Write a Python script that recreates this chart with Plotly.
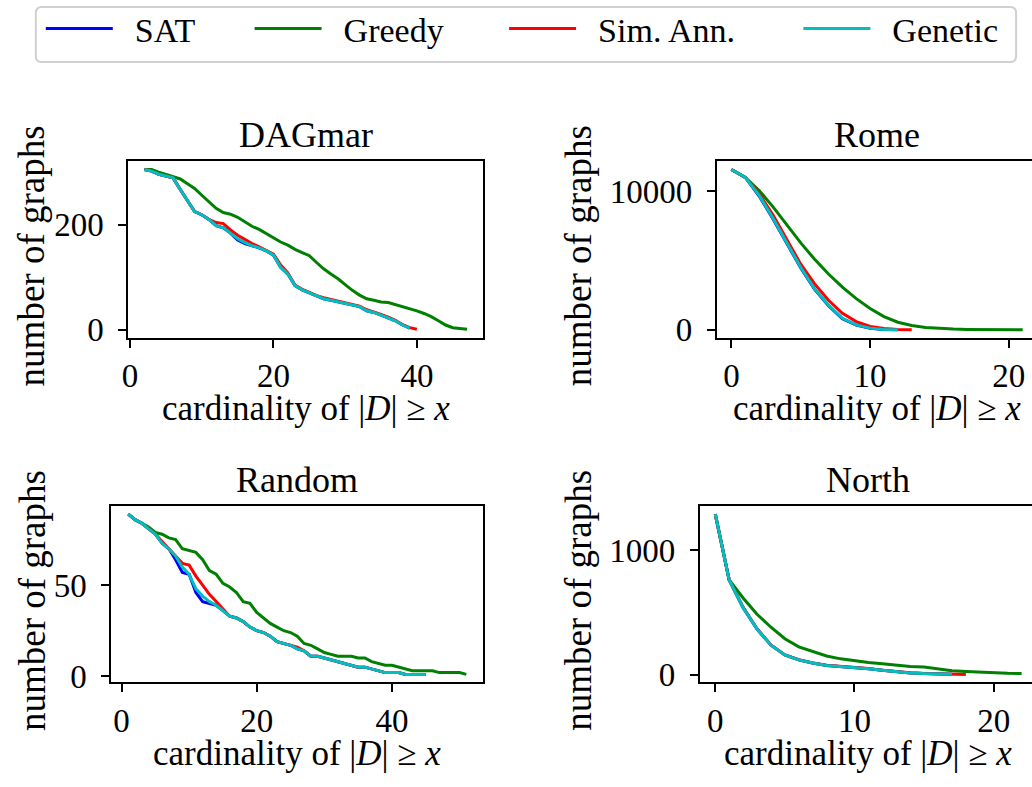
import plotly.graph_objects as go

W, H = 1032, 787
FONT = "Liberation Serif"

# ---------------- data ----------------
# DAGmar
dag_x_sat = list(range(2, 40))
dag_sat = [305, 302, 296, 292, 289, 267, 245, 225, 219, 210, 198, 194, 184, 171, 164, 160, 156, 150, 142,
           119, 106, 84, 76, 70, 64, 59, 56, 53, 50, 47, 44, 36, 33, 28, 23, 17, 9, 3]
dag_x_greedy = list(range(2, 48))
dag_greedy = [305, 305, 300, 296, 292, 287, 278, 269, 256, 244, 231, 223, 220, 214, 206, 197, 191, 183, 175,
              167, 161, 153, 147, 141, 128, 116, 106, 97, 86, 75, 66, 59, 56, 53, 52, 48, 45, 41, 36, 31,
              25, 17, 9, 4, 3, 1]
dag_x_sa = list(range(2, 41))
dag_sa = [305, 302, 296, 292, 289, 267, 245, 225, 219, 210, 204, 202, 190, 180, 172, 164, 158, 151, 144,
          123, 108, 85, 77, 71, 65, 61, 58, 54, 51, 48, 45, 38, 34, 29, 24, 18, 10, 4, 1]
dag_x_gen = list(range(2, 40))
dag_gen = [305, 302, 296, 292, 289, 267, 245, 225, 219, 210, 198, 194, 184, 173, 166, 160, 156, 150, 142,
           119, 106, 84, 76, 70, 64, 59, 56, 53, 50, 47, 44, 36, 33, 28, 23, 17, 9, 3]

# Rome
rome_x_sat = list(range(0, 13))
rome_sat = [11560, 10993, 9650, 7990, 6220, 4450, 2920, 1740, 800, 340, 110, 22, 4]
rome_x_greedy = list(range(0, 22))
rome_greedy = [11560, 10993, 10047, 8865, 7565, 6265, 5083, 4019, 3073, 2246, 1537, 946, 544, 307, 165,
               95, 47, 24, 10, 5, 3, 1]
rome_x_sa = list(range(0, 14))
rome_sa = [11560, 10993, 9810, 8274, 6500, 4728, 3310, 2128, 1182, 591, 236, 95, 24, 3]
rome_x_gen = list(range(0, 13))
rome_gen = [11560, 10993, 9693, 8038, 6265, 4492, 2955, 1773, 827, 355, 118, 24, 5]

# Random
rand_x_sat = list(range(1, 46))
rand_sat = [89, 86, 84, 81, 78, 73, 70, 64, 57, 56, 46, 41, 40, 39, 36, 33, 32, 30, 27, 25, 24, 22, 19, 18,
            17, 15, 14, 11, 11, 10, 9, 8, 7, 6, 5, 5, 4, 3, 2, 2, 2, 1, 1, 1, 1]
rand_x_greedy = list(range(1, 52))
rand_greedy = [89, 86, 84, 82, 79, 78, 76, 75, 70, 69, 68, 64, 58, 56, 51, 49, 46, 41, 40, 35, 32, 29, 27,
               25, 24, 22, 18, 17, 15, 13, 12, 11, 11, 11, 10, 10, 8, 7, 6, 6, 5, 4, 3, 3, 3, 3, 2, 2, 2,
               2, 1]
rand_x_sa = list(range(1, 46))
rand_sa = [89, 86, 84, 81, 78, 74, 70, 66, 62, 61, 55, 50, 45, 41, 37, 33, 32, 30, 27, 25, 24, 22, 19, 18,
           17, 16, 14, 11, 11, 10, 9, 8, 7, 6, 5, 5, 4, 3, 2, 2, 2, 1, 1, 1, 1]
rand_x_gen = list(range(1, 46))
rand_gen = [89, 86, 84, 81, 78, 73, 70, 66, 60, 56, 48, 44, 41, 39, 36, 33, 32, 30, 27, 25, 24, 22, 19, 18,
            17, 15, 14, 11, 11, 10, 9, 8, 7, 6, 5, 5, 4, 3, 2, 2, 2, 1, 1, 1, 1]

# North
north_x_sat = list(range(0, 18))
north_sat = [1288, 759, 537, 366, 236, 157, 118, 92, 73, 65, 58, 47, 34, 21, 13, 8, 5, 3]
north_x_greedy = list(range(0, 23))
north_greedy = [1288, 759, 615, 484, 380, 288, 222, 183, 149, 126, 110, 97, 86, 73, 65, 60, 45, 31, 24,
                18, 13, 10, 8]
north_x_sa = list(range(0, 19))
north_sa = [1288, 759, 540, 368, 238, 158, 119, 93, 74, 66, 59, 48, 35, 22, 14, 9, 6, 3, 1]
north_x_gen = list(range(0, 18))
north_gen = [1288, 759, 537, 366, 236, 157, 118, 92, 73, 65, 58, 47, 34, 21, 13, 8, 5, 3]

titles = ["DAGmar", "Rome", "Random", "North"]
series_names = ["SAT", "Greedy", "Sim. Ann.", "Genetic"]
colors = ["#0000ff", "#008000", "#ff0000", "#00bfbf"]
xticks = [[0, 20, 40], [0, 10, 20], [0, 20, 40], [0, 10, 20]]
yticks = [[0, 200], [0, 10000], [0, 50], [0, 1000]]
x_label = "cardinality of |<i>D</i>| ≥ <i>x</i>"
y_label = "number of graphs"

panels = [
    [(dag_x_sat, dag_sat), (dag_x_greedy, dag_greedy), (dag_x_sa, dag_sa), (dag_x_gen, dag_gen)],
    [(rome_x_sat, rome_sat), (rome_x_greedy, rome_greedy), (rome_x_sa, rome_sa), (rome_x_gen, rome_gen)],
    [(rand_x_sat, rand_sat), (rand_x_greedy, rand_greedy), (rand_x_sa, rand_sa), (rand_x_gen, rand_gen)],
    [(north_x_sat, north_sat), (north_x_greedy, north_greedy), (north_x_sa, north_sa),
     (north_x_gen, north_gen)],
]

# ---------------- layout geometry (pixels) ----------------
boxes = [  # left, right, top, bottom
    (123, 480, 164, 343),
    (715, 1032, 164, 343),
    (106, 480, 514, 693),
    (698, 1032, 514, 693),
]
xranges = [[-0.25, 49.25], [-1.05, 21.67], [-1.5, 53.5], [-1.1, 22.75]]
yranges = [[-15.25, 320.25], [-578, 12138], [-3.4, 93.4], [-63.4, 1352.4]]


def fx(p):
    return p / W


def fy(p):
    return 1 - p / H


fig = go.Figure()
legend_names = ["legend", "legend2", "legend3", "legend4"]

for i, panel in enumerate(panels):
    sfx = "" if i == 0 else str(i + 1)
    for j, (xs, ys) in enumerate(panel):
        fig.add_trace(go.Scatter(
            x=xs, y=ys, mode="lines", name="\u2002" + series_names[j],
            line=dict(color=colors[j], width=3),
            xaxis="x" + sfx, yaxis="y" + sfx,
            showlegend=(i == 0), legend=legend_names[j],
        ))

annotations = []
for i in range(4):
    sfx = "" if i == 0 else str(i + 1)
    l, r, t, b = boxes[i]
    right_col = i in (1, 3)
    common = dict(showline=True, linecolor="black", linewidth=2, ticks="outside", ticklen=8,
                  tickwidth=2, tickcolor="black", showgrid=False, zeroline=False,
                  tickfont=dict(family=FONT, size=33, color="black"))
    fig.update_layout(**{
        "xaxis" + sfx: dict(domain=[fx(l), fx(r)], anchor="y" + sfx, range=xranges[i],
                            tickvals=xticks[i], ticktext=[str(v) for v in xticks[i]],
                            mirror=True, **common),
        "yaxis" + sfx: dict(domain=[fy(b), fy(t)], anchor="x" + sfx, range=yranges[i],
                            tickvals=yticks[i], ticktext=[str(v) for v in yticks[i]],
                            ticklabelstandoff=8, mirror=not right_col, **common),
    })
    cx = (l + (r if not right_col else 1037)) / 2
    annotations.append(dict(text=titles[i], x=fx(cx), y=fy(t - 27), xref="paper", yref="paper",
                            xanchor="center", yanchor="middle", showarrow=False,
                            font=dict(family=FONT, size=36, color="black")))
    annotations.append(dict(text=x_label, x=fx(cx), y=fy(b + 72),
                            xref="paper", yref="paper", xanchor="center", yanchor="middle",
                            showarrow=False, font=dict(family=FONT, size=35, color="black")))
    ylx = 26 if not right_col else 576
    annotations.append(dict(text=y_label, x=fx(ylx), y=fy((t + b) / 2 + 6), xref="paper",
                            yref="paper", xanchor="center", yanchor="middle", textangle=-90,
                            showarrow=False, font=dict(family=FONT, size=37, color="black")))

legend_x = [35, 245, 501, 797]
legends = {}
for j, name in enumerate(legend_names):
    legends[name] = dict(x=fx(legend_x[j]), y=fy(0), xanchor="left", yanchor="top",
                         orientation="h", bgcolor="rgba(0,0,0,0)", borderwidth=0,
                         itemwidth=67, font=dict(family=FONT, size=34, color="black"))

# rounded legend frame (pixel coordinates -> paper)
bx0, bx1, by0, by1, rr = 30, 1016, 7, 63, 6
frame_path = (
    f"M {fx(bx0 + rr)},{fy(by0)} L {fx(bx1 - rr)},{fy(by0)} "
    f"Q {fx(bx1)},{fy(by0)} {fx(bx1)},{fy(by0 + rr)} L {fx(bx1)},{fy(by1 - rr)} "
    f"Q {fx(bx1)},{fy(by1)} {fx(bx1 - rr)},{fy(by1)} L {fx(bx0 + rr)},{fy(by1)} "
    f"Q {fx(bx0)},{fy(by1)} {fx(bx0)},{fy(by1 - rr)} L {fx(bx0)},{fy(by0 + rr)} "
    f"Q {fx(bx0)},{fy(by0)} {fx(bx0 + rr)},{fy(by0)} Z"
)

fig.update_layout(
    width=W, height=H, margin=dict(l=0, r=0, t=0, b=0),
    paper_bgcolor="white", plot_bgcolor="white",
    annotations=annotations,
    shapes=[dict(type="path", xref="paper", yref="paper", path=frame_path,
                 line=dict(color="#d0d0d0", width=2), fillcolor="white", layer="below")],
    **legends,
)

fig.write_html("out.html", config={"displayModeBar": False},
               post_script="document.body.style.margin='0px';document.body.style.overflow='hidden';")
